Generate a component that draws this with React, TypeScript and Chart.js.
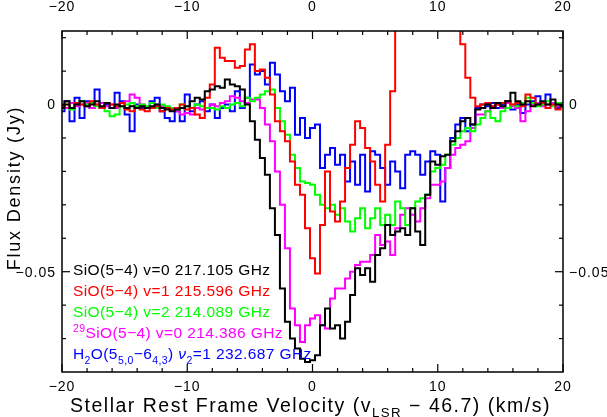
import React, { useEffect, useRef } from "react";
import { Chart, registerables } from "chart.js";

Chart.register(...registerables);

// Velocity channels (km/s)
const VELOCITY = [
  -20, -19.6, -19.2, -18.8, -18.4, -18, -17.6, -17.2, -16.8, -16.4,
  -16, -15.6, -15.2, -14.8, -14.4, -14, -13.6, -13.2, -12.8, -12.4,
  -12, -11.6, -11.2, -10.8, -10.4, -10, -9.6, -9.2, -8.8, -8.4,
  -8, -7.6, -7.2, -6.8, -6.4, -6, -5.6, -5.2, -4.8, -4.4,
  -4, -3.6, -3.2, -2.8, -2.4, -2, -1.6, -1.2, -0.8, -0.4,
  0, 0.4, 0.8, 1.2, 1.6, 2, 2.4, 2.8, 3.2, 3.6,
  4, 4.4, 4.8, 5.2, 5.6, 6, 6.4, 6.8, 7.2, 7.6,
  8, 8.4, 8.8, 9.2, 9.6, 10, 10.4, 10.8, 11.2, 11.6,
  12, 12.4, 12.8, 13.2, 13.6, 14, 14.4, 14.8, 15.2, 15.6,
  16, 16.4, 16.8, 17.2, 17.6, 18, 18.4, 18.8, 19.2, 19.6,
  20,
];

// SiO(5-4) v=0 (black)
const SIO_V0 = [
  -0.001, 0.001, -0.001, 0, 0.001, -0.0005, 0, 0.001, -0.0005, 0.0005,
  -0.001, 0, -0.0005, -0.001, -0.0005, -0.001, -0.0005, -0.001, -0.0005, 0,
  -0.001, -0.0015, -0.002, -0.0015, -0.001, -0.0005, 0.001, 0.002, 0.0015, 0.004,
  0.0045, 0.0055, 0.005, 0.0075, 0.006, 0.0055, 0.0045, 0.0, -0.005, -0.0105,
  -0.016, -0.021, -0.031, -0.039, -0.055, -0.065, -0.07, -0.073, -0.076, -0.077,
  -0.0765, -0.075, -0.066, -0.061, -0.067, -0.066, -0.07, -0.065, -0.057, -0.049,
  -0.051, -0.049, -0.053, -0.045, -0.043, -0.036, -0.039, -0.038, -0.037, -0.039,
  -0.031, -0.038, -0.042, -0.027, -0.017, -0.018, -0.0155, -0.015, -0.011, -0.008,
  -0.005, -0.004, -0.006, -0.0015, -0.001, 0, -0.001, 0.0005, -0.0005, 0.001,
  0.0035, 0.001, 0, 0.001, -0.0005, 0, 0.001, 0, 0.0015, 0,
  -0.0005,
];

// SiO(5-4) v=1 (red)
const SIO_V1 = [
  -0.0005, 0, -0.001, 0.0005, 0, -0.0005, 0.001, 0, -0.001, 0.0005,
  0, -0.0005, 0.0005, -0.0015, -0.002, -0.001, -0.0015, -0.002, -0.001, -0.0005,
  -0.002, -0.001, -0.0015, -0.001, 0, -0.0015, -0.001, -0.003, -0.004, 0.002,
  0.006, 0.017, 0.014, 0.013, 0.013, 0.011, 0.0115, 0.0165, 0.018, 0.01,
  0.0105, 0.008, 0.003, -0.005, -0.008, -0.011, -0.017, -0.024, -0.027, -0.037,
  -0.046, -0.0505, -0.036, -0.02, -0.032, -0.035, -0.029, -0.019, -0.012, -0.005,
  -0.007, -0.013, -0.017, -0.024, -0.029, -0.012, 0.004, 0.1, 0.1, 0.1,
  0.1, 0.1, 0.1, 0.1, 0.1, 0.1, 0.1, 0.1, 0.1, 0.1,
  0.018, 0.008, 0.002, -0.0005, 0, 0.0005, -0.0005, 0, 0.0005, 0.001,
  0, 0.0005, -0.0005, 0.003, 0.002, 0, 0.0005, -0.001, 0, -0.0015,
  -0.0005,
];

// SiO(5-4) v=2 (green)
const SIO_V2 = [
  -0.001, 0, -0.0015, 0.0005, 0.001, 0, 0.0005, -0.0005, -0.001, -0.002,
  -0.0035, -0.003, -0.0005, 0, 0.0005, -0.0005, 0, -0.0005, 0.0005, -0.001,
  0, -0.0005, -0.001, -0.0015, 0, -0.0005, -0.001, 0, -0.0005, -0.001,
  -0.001, -0.0015, -0.0005, -0.001, 0, 0.0005, -0.0005, 0.002, 0.001, 0.002,
  0.003, 0.004, 0.0045, -0.001, -0.005, -0.009, -0.015, -0.019, -0.023, -0.0235,
  -0.024, -0.027, -0.03, -0.031, -0.03, -0.033, -0.031, -0.035, -0.038, -0.034,
  -0.031, -0.037, -0.034, -0.031, -0.036, -0.033, -0.036, -0.029, -0.031, -0.036,
  -0.031, -0.029, -0.028, -0.027, -0.02, -0.019, -0.018, -0.015, -0.012, -0.01,
  -0.008, -0.007, -0.008, -0.006, -0.004, -0.002, -0.004, -0.005, -0.002, -0.001,
  0, -0.0005, 0.0005, 0.002, 0.0005, -0.0005, 0, 0.001, -0.0005, 0.0005,
  0,
];

// 29SiO(5-4) v=0 (magenta)
const SI29O_V0 = [
  0, -0.001, 0.0005, -0.0005, 0, 0.0005, -0.001, 0, 0.0005, -0.0005,
  0, -0.001, 0.0005, 0.001, 0.003, 0.002, 0, -0.0005, -0.001, 0,
  -0.0005, -0.001, -0.0015, -0.002, -0.003, -0.0025, -0.003, -0.001, -0.0015, -0.001,
  0, -0.0005, 0.0005, 0.001, 0.0025, 0.002, 0.001, 0.0005, 0.0015, 0.0015,
  -0.001, -0.006, -0.011, -0.02, -0.03, -0.043, -0.061, -0.066, -0.071, -0.066,
  -0.064, -0.063, -0.066, -0.067, -0.058, -0.055, -0.055, -0.052, -0.05, -0.048,
  -0.047, -0.047, -0.045, -0.039, -0.042, -0.041, -0.045, -0.037, -0.033, -0.031,
  -0.033, -0.035, -0.031, -0.028, -0.024, -0.024, -0.023, -0.019, -0.015, -0.013,
  -0.012, -0.011, -0.007, -0.003, -0.003, -0.002, -0.0005, 0, -0.001, 0.0005,
  -0.0005, -0.001, -0.005, -0.002, 0, 0.0005, -0.0005, 0, 0.0005, -0.0005,
  0,
];

// H2O(5_5,0-6_4,3) v2=1 (blue)
const H2O_V2 = [
  -0.002, 0.001, -0.005, 0.002, -0.004, 0.001, -0.001, 0.0045, -0.001, 0,
  -0.001, 0.0035, 0.001, -0.003, -0.008, 0, -0.001, -0.001, 0.001, 0.002,
  -0.002, -0.004, -0.005, -0.002, -0.005, 0.003, -0.002, 0, 0.001, -0.002,
  0, -0.004, -0.001, 0, -0.002, 0.004, -0.001, 0.002, 0.012, 0.009,
  0.01, 0.006, 0.0125, 0.009, 0.004, 0.001, 0.005, -0.009, -0.004, -0.01,
  -0.007, -0.006, -0.019, -0.015, -0.013, -0.018, -0.015, -0.023, -0.017, -0.024,
  -0.015, -0.026, -0.014, -0.015, -0.019, -0.024, -0.017, -0.02, -0.025, -0.015,
  -0.014, -0.015, -0.021, -0.017, -0.014, -0.015, -0.029, -0.019, -0.01, -0.006,
  -0.004, -0.008, -0.006, -0.001, 0, -0.0005, 0.0005, -0.001, 0, 0.001,
  -0.0015, 0, -0.0025, 0, 0.001, 0.0025, 0, 0.003, 0.0005, -0.001,
  0.0005,
];

const X_MIN = -20;
const X_MAX = 20;
const Y_MIN = -0.08;
const Y_MAX = 0.022;

const X_MAJOR = [-20, -10, 0, 10, 20];
const X_MAJOR_LABELS = ["\u221220", "\u221210", "0", "10", "20"];
const X_MINOR = [-18, -16, -14, -12, -8, -6, -4, -2, 2, 4, 6, 8, 12, 14, 16, 18];
const Y_MAJOR = [0, -0.05];
const Y_MAJOR_LABELS = ["0", "\u22120.05"];
const Y_MINOR = [0.02, 0.01, -0.01, -0.02, -0.03, -0.04, -0.06, -0.07];

const SERIES_COLORS = ["#000000", "#ff0000", "#00ff00", "#ff00ff", "#0000ff"];
const SERIES_NAMES = [
  "SiO(5-4) v=0",
  "SiO(5-4) v=1",
  "SiO(5-4) v=2",
  "29SiO(5-4) v=0",
  "H2O v2=1",
];

type Seg = { t: string; k?: "sub" | "sup"; it?: boolean };

const LEGEND_LINES: Seg[][] = [
  [{ t: "SiO(5\u22124) v=0 217.105 GHz" }],
  [{ t: "SiO(5\u22124) v=1 215.596 GHz" }],
  [{ t: "SiO(5\u22124) v=2 214.089 GHz" }],
  [{ t: "29", k: "sup" }, { t: "SiO(5\u22124) v=0 214.386 GHz" }],
  [
    { t: "H" },
    { t: "2", k: "sub" },
    { t: "O(5" },
    { t: "5,0", k: "sub" },
    { t: "\u22126" },
    { t: "4,3", k: "sub" },
    { t: ") " },
    { t: "\u03bd", it: true },
    { t: "2", k: "sub" },
    { t: "=1 232.687 GHz" },
  ],
];

const X_TITLE: Seg[] = [
  { t: "Stellar Rest Frame Velocity (v" },
  { t: "LSR", k: "sub" },
  { t: " \u2212 46.7) (km/s)" },
];
const Y_TITLE: Seg[] = [{ t: "Flux Density (Jy)" }];

const FAMILY = '"Liberation Sans", Arial, Helvetica, sans-serif';

function segFont(s: Seg, size: number) {
  const sz = s.k ? size * 0.68 : size;
  return `${s.it ? "italic " : ""}${sz}px ${FAMILY}`;
}

function measureRich(ctx: CanvasRenderingContext2D, segs: Seg[], size: number) {
  let w = 0;
  for (const s of segs) {
    ctx.font = segFont(s, size);
    w += ctx.measureText(s.t).width;
  }
  return w;
}

function drawRich(
  ctx: CanvasRenderingContext2D,
  segs: Seg[],
  x: number,
  y: number,
  size: number,
  color: string,
  align: "left" | "center",
  spacing: number
) {
  (ctx as any).letterSpacing = `${spacing}px`;
  const w = measureRich(ctx, segs, size);
  let cx = align === "center" ? x - w / 2 : x;
  ctx.fillStyle = color;
  ctx.textBaseline = "alphabetic";
  ctx.textAlign = "left";
  for (const s of segs) {
    ctx.font = segFont(s, size);
    let dy = 0;
    if (s.k === "sub") dy = size * 0.28;
    if (s.k === "sup") dy = -size * 0.4;
    ctx.fillText(s.t, cx, y + dy);
    cx += ctx.measureText(s.t).width;
  }
  (ctx as any).letterSpacing = "0px";
}

const framePlugin = {
  id: "framePlugin",
  afterDatasetsDraw(chart: any) {
    const ctx: CanvasRenderingContext2D = chart.ctx;
    const { left, right, top, bottom } = chart.chartArea;
    const xs = chart.scales.x;
    const ys = chart.scales.y;
    ctx.save();
    ctx.strokeStyle = "#000";
    ctx.lineWidth = 1.5;
    ctx.strokeRect(left, top, right - left, bottom - top);

    ctx.lineWidth = 1.2;
    const tick = (x1: number, y1: number, x2: number, y2: number) => {
      ctx.beginPath();
      ctx.moveTo(x1, y1);
      ctx.lineTo(x2, y2);
      ctx.stroke();
    };
    const MAJ = 8;
    const MIN = 4;
    X_MAJOR.forEach((v) => {
      const px = xs.getPixelForValue(v);
      tick(px, bottom, px, bottom - MAJ);
      tick(px, top, px, top + MAJ);
    });
    X_MINOR.forEach((v) => {
      const px = xs.getPixelForValue(v);
      tick(px, bottom, px, bottom - MIN);
      tick(px, top, px, top + MIN);
    });
    Y_MAJOR.forEach((v) => {
      const py = ys.getPixelForValue(v);
      tick(left, py, left + MAJ, py);
      tick(right, py, right - MAJ, py);
    });
    Y_MINOR.forEach((v) => {
      const py = ys.getPixelForValue(v);
      tick(left, py, left + MIN, py);
      tick(right, py, right - MIN, py);
    });

    // tick labels
    ctx.fillStyle = "#000";
    ctx.font = `14px ${FAMILY}`;
    (ctx as any).letterSpacing = "1px";
    ctx.textBaseline = "middle";
    ctx.textAlign = "center";
    X_MAJOR.forEach((v, i) => {
      const px = xs.getPixelForValue(v);
      ctx.fillText(X_MAJOR_LABELS[i], px, bottom + 15);
      ctx.fillText(X_MAJOR_LABELS[i], px, top - 24);
    });
    Y_MAJOR.forEach((v, i) => {
      const py = ys.getPixelForValue(v);
      ctx.textAlign = "right";
      ctx.fillText(Y_MAJOR_LABELS[i], left - 6, py + 1);
      ctx.textAlign = "left";
      ctx.fillText(Y_MAJOR_LABELS[i], right + 6, py + 1);
    });
    (ctx as any).letterSpacing = "0px";

    // axis titles
    drawRich(ctx, X_TITLE, (left + right) / 2 - 2, bottom + 40, 19.5, "#000", "center", 1.5);
    ctx.save();
    ctx.translate(20, 188);
    ctx.rotate(-Math.PI / 2);
    drawRich(ctx, Y_TITLE, 0, 0, 18, "#000", "center", 1.8);
    ctx.restore();

    // legend text
    const lx = left + 11;
    let ly = ys.getPixelForValue(-0.0505) + 2;
    LEGEND_LINES.forEach((segs, i) => {
      drawRich(ctx, segs, lx, ly, 15.5, SERIES_COLORS[i], "left", 0.4);
      ly += 21;
    });
    ctx.restore();
  },
};

export default function App() {
  const canvasRef = useRef<HTMLCanvasElement | null>(null);

  useEffect(() => {
    const canvas = canvasRef.current;
    if (!canvas) return;
    const seriesList = [SIO_V0, SIO_V1, SIO_V2, SI29O_V0, H2O_V2];
    const datasets = seriesList.map((vals, i) => ({
      label: SERIES_NAMES[i],
      data: VELOCITY.map((v, j) => ({ x: v, y: vals[j] })),
      borderColor: SERIES_COLORS[i],
      backgroundColor: SERIES_COLORS[i],
      borderWidth: 2,
      pointRadius: 0,
      stepped: "middle" as const,
      fill: false,
    }));
    const chart = new Chart(canvas, {
      type: "line",
      data: { datasets },
      options: {
        responsive: false,
        animation: false,
        devicePixelRatio: 1,
        parsing: false as any,
        layout: { padding: { left: 62, top: 31, right: 44, bottom: 45 } },
        plugins: {
          legend: { display: false },
          tooltip: { enabled: false },
        },
        scales: {
          x: { type: "linear", min: X_MIN, max: X_MAX, display: false },
          y: { type: "linear", min: Y_MIN, max: Y_MAX, display: false },
        },
      },
      plugins: [framePlugin],
    });
    return () => chart.destroy();
  }, []);

  return (
    <div style={{ position: "absolute", left: 0, top: 0, width: 607, height: 417, background: "#fff" }}>
      <canvas ref={canvasRef} width={607} height={417} style={{ display: "block" }} />
    </div>
  );
}
